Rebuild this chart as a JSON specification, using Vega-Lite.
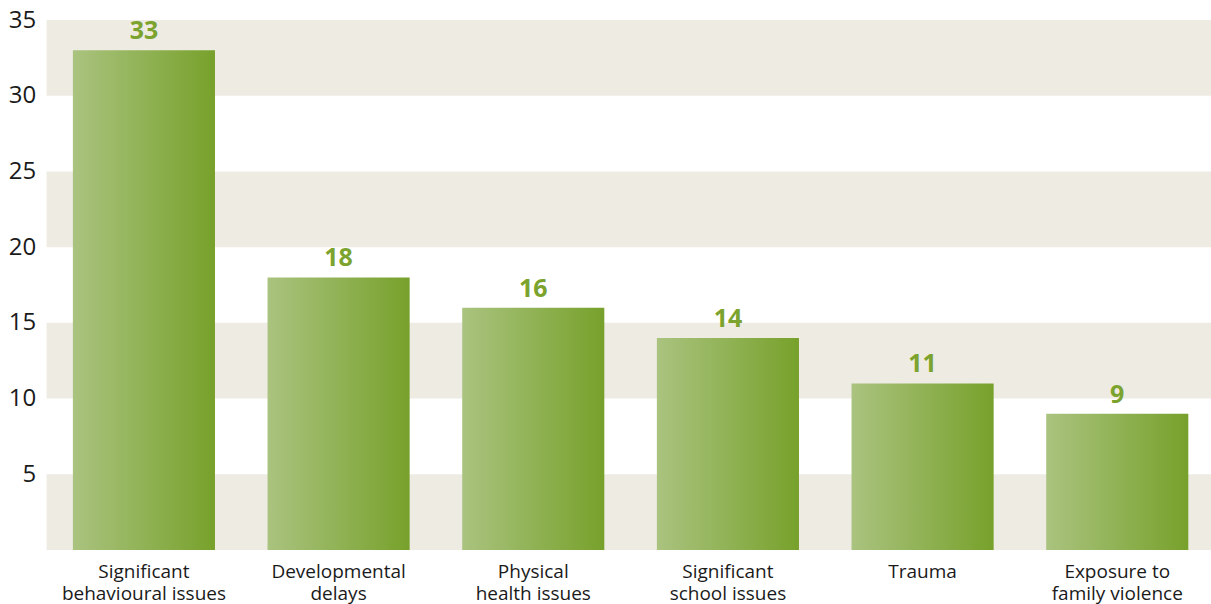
{
  "$schema": "https://vega.github.io/schema/vega-lite/v6.json",
  "width": 1168,
  "height": 530,
  "autosize": "none",
  "padding": {"left": 46.6, "top": 20, "right": 0, "bottom": 54},
  "background": "white",
  "config": {"view": {"stroke": null}, "font": "Open Sans"},
  "datasets": {
    "bars": [
      {"category": "Significant|behavioural issues", "value": 33},
      {"category": "Developmental|delays", "value": 18},
      {"category": "Physical|health issues", "value": 16},
      {"category": "Significant|school issues", "value": 14},
      {"category": "Trauma", "value": 11},
      {"category": "Exposure to|family violence", "value": 9}
    ],
    "bands": [
      {"lo": 0, "hi": 5},
      {"lo": 10, "hi": 15},
      {"lo": 20, "hi": 25},
      {"lo": 30, "hi": 35}
    ]
  },
  "layer": [
    {
      "data": {"name": "bands"},
      "mark": {"type": "rect", "color": "#eeebe3"},
      "encoding": {
        "y": {"field": "lo", "type": "quantitative", "scale": {"domain": [0, 35]}},
        "y2": {"field": "hi"}
      }
    },
    {
      "data": {"name": "bars"},
      "layer": [
        {
          "mark": {
            "type": "bar",
            "color": {
              "gradient": "linear",
              "x1": 0, "x2": 1, "y1": 0, "y2": 0,
              "stops": [
                {"offset": 0, "color": "#aac37f"},
                {"offset": 1, "color": "#77a12b"}
              ]
            }
          },
          "encoding": {
            "x": {
              "field": "category", "type": "nominal", "sort": null,
              "scale": {"paddingInner": 0.27, "paddingOuter": 0.135},
              "axis": {
                "title": null, "domain": false, "ticks": false,
                "labelAngle": 0, "labelFontSize": 19, "labelColor": "#1a1a1a",
                "labelPadding": 13, "labelBaseline": "top", "labelLineHeight": 22,
                "labelExpr": "split(datum.label, '|')", "labelLimit": 0
              }
            },
            "y": {
              "field": "value", "type": "quantitative",
              "scale": {"domain": [0, 35]},
              "axis": {
                "title": null, "domain": false, "ticks": false, "grid": false,
                "values": [5, 10, 15, 20, 25, 30, 35],
                "labelFontSize": 24, "labelColor": "#1a1a1a", "labelPadding": 11
              }
            }
          }
        },
        {
          "mark": {"type": "text", "baseline": "alphabetic", "dy": -11, "fontSize": 25, "fontWeight": "bold", "color": "#7ba32e"},
          "encoding": {
            "x": {"field": "category", "type": "nominal", "sort": null},
            "y": {"field": "value", "type": "quantitative"},
            "text": {"field": "value", "type": "quantitative"}
          }
        }
      ]
    }
  ]
}
